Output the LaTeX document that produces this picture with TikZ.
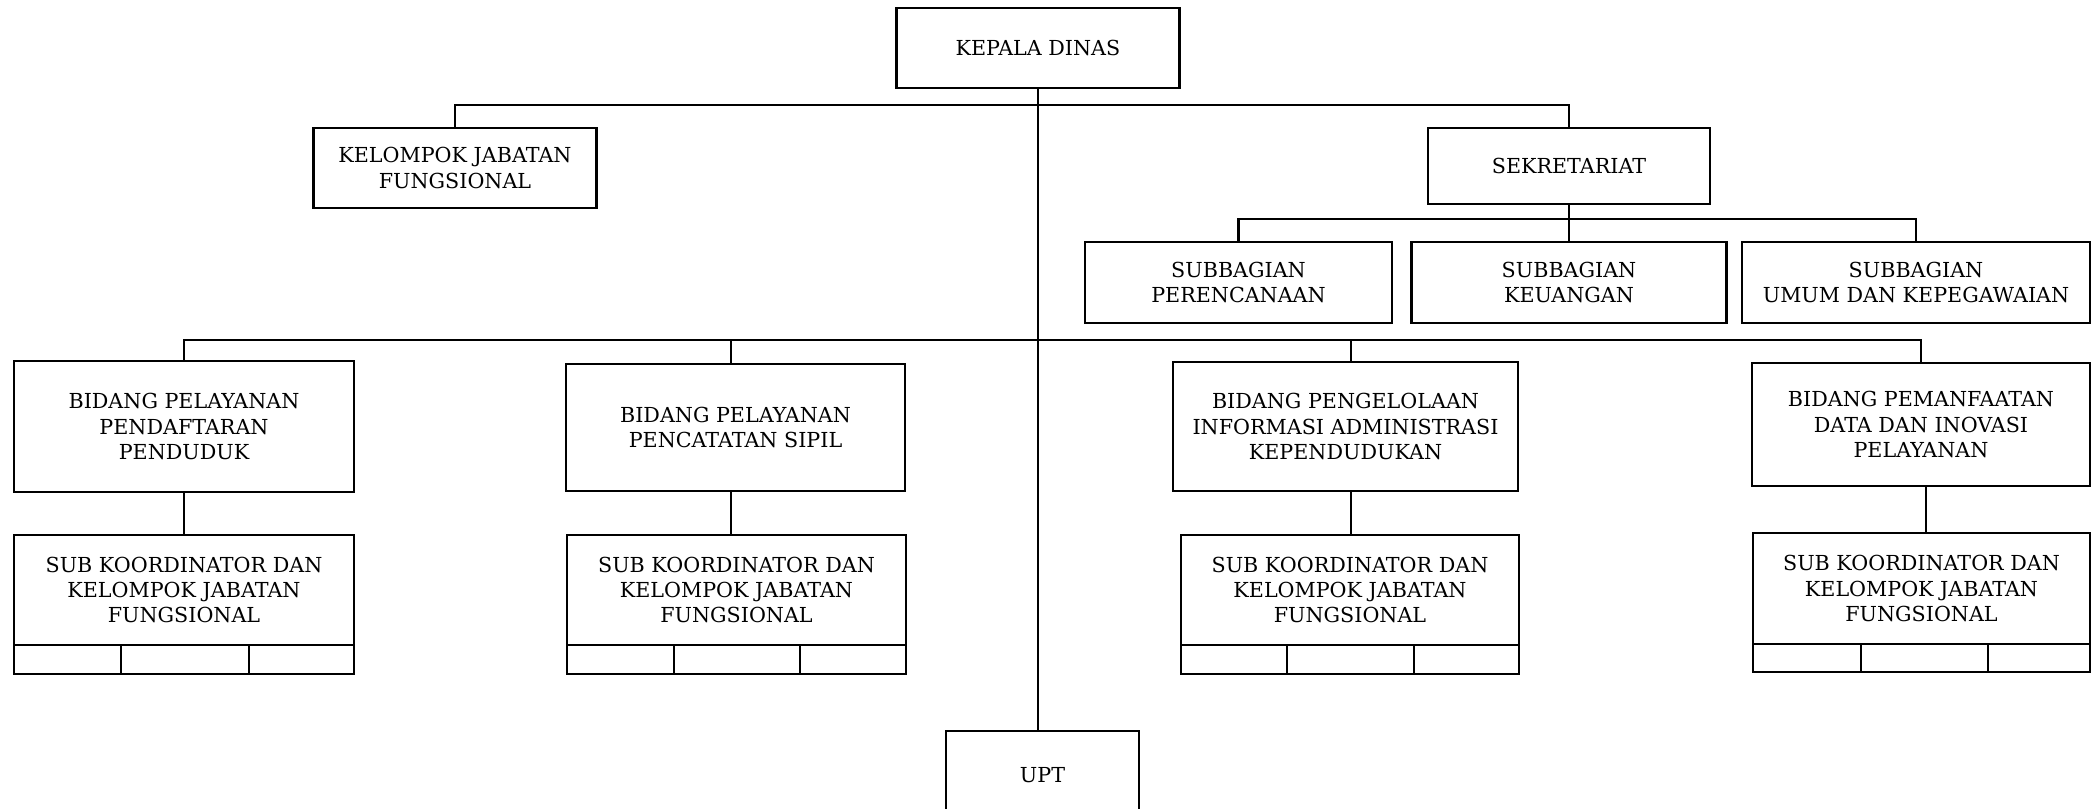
\documentclass[tikz,border=0pt]{standalone}
\usepackage{fontspec}
\setmainfont{DejaVu Serif}
\begin{document}
\begin{tikzpicture}[x=0.75pt,y=0.75pt,yscale=-1,xscale=1,
	box/.style={draw, line width=2pt, align=center, inner sep=0pt, font=\fontsize{15.5}{19}\selectfont},
	cell/.style={draw, line width=2pt, inner sep=0pt, outer sep=0pt, anchor=north west, minimum height=21.75pt},
	conn/.style={line width=2pt}]
	\useasboundingbox (0,0) rectangle (2092,809);
	\clip (0,0) rectangle (2092,809);
	
	%Shape: Rectangle [kepala dinas]
	\node[box, minimum width=212.25pt, minimum height=60pt] (kepala) at (1038,48) {KEPALA DINAS};
	%Shape: Rectangle [kelompok jabatan fungsional]
	\node[box, minimum width=212.25pt, minimum height=60pt] (kjf) at (455,168) {KELOMPOK JABATAN\\FUNGSIONAL};
	%Shape: Rectangle [sekretariat]
	\node[box, minimum width=211.5pt, minimum height=57pt] (sek) at (1569,166) {SEKRETARIAT};
	
	%Shape: Rectangle [subbagian]
	\node[box, minimum width=230.25pt, minimum height=60.75pt] (subA) at (1238.5,282.5) {SUBBAGIAN\\PERENCANAAN};
	\node[box, minimum width=236.25pt, minimum height=60.75pt] (subB) at (1569,282.5) {SUBBAGIAN\\KEUANGAN};
	\node[box, minimum width=261pt, minimum height=60.75pt] (subC) at (1916,282.5) {SUBBAGIAN\\UMUM DAN KEPEGAWAIAN};
	
	%Shape: Rectangle [bidang]
	\node[box, minimum width=255pt, minimum height=98.25pt] (bidA) at (184,426.5) {BIDANG PELAYANAN\\PENDAFTARAN\\PENDUDUK};
	\node[box, minimum width=254.25pt, minimum height=95.25pt] (bidB) at (735.5,427.5) {BIDANG PELAYANAN\\PENCATATAN SIPIL};
	\node[box, minimum width=258.75pt, minimum height=96.75pt] (bidC) at (1345.5,426.5) {BIDANG PENGELOLAAN\\INFORMASI ADMINISTRASI\\KEPENDUDUKAN};
	\node[box, minimum width=253.5pt, minimum height=92.25pt] (bidD) at (1921,424.5) {BIDANG PEMANFAATAN\\DATA DAN INOVASI\\PELAYANAN};
	
	%Shape: Rectangle [sub koordinator]
	\node[box, minimum width=255pt, minimum height=82.5pt] (skA) at (184,590) {SUB KOORDINATOR DAN\\KELOMPOK JABATAN\\FUNGSIONAL};
	\node[box, minimum width=254.25pt, minimum height=82.5pt] (skB) at (736.5,590) {SUB KOORDINATOR DAN\\KELOMPOK JABATAN\\FUNGSIONAL};
	\node[box, minimum width=253.5pt, minimum height=82.5pt] (skC) at (1350,590) {SUB KOORDINATOR DAN\\KELOMPOK JABATAN\\FUNGSIONAL};
	\node[box, minimum width=252.75pt, minimum height=83.25pt] (skD) at (1921.5,588.5) {SUB KOORDINATOR DAN\\KELOMPOK JABATAN\\FUNGSIONAL};
	
	%Shape: Rectangle [empty cells]
	\node[cell, minimum width=80.25pt] (skA1) at (14,645) {};
	\node[cell, minimum width=96pt] (skA2) at (121,645) {};
	\node[cell, minimum width=78.75pt] (skA3) at (249,645) {};
	\node[cell, minimum width=80.25pt] (skB1) at (567,645) {};
	\node[cell, minimum width=94.5pt] (skB2) at (674,645) {};
	\node[cell, minimum width=79.5pt] (skB3) at (800,645) {};
	\node[cell, minimum width=79.5pt] (skC1) at (1181,645) {};
	\node[cell, minimum width=95.25pt] (skC2) at (1287,645) {};
	\node[cell, minimum width=78.75pt] (skC3) at (1414,645) {};
	\node[cell, minimum width=81pt, minimum height=21pt] (skD1) at (1753,644) {};
	\node[cell, minimum width=95.25pt, minimum height=21pt] (skD2) at (1861,644) {};
	\node[cell, minimum width=76.5pt, minimum height=21pt] (skD3) at (1988,644) {};
	
	%Shape: Rectangle [upt]
	\node[box, minimum width=144.75pt, minimum height=66pt] (upt) at (1042.5,775) {UPT};
	
	%Straight Lines [bus]
	\coordinate (busTop) at (1038,105);
	\coordinate (busSek) at (1569,219);
	\coordinate (busBid) at (1038,340);
	\coordinate (dropB) at (731,340);
	\coordinate (dropC) at (1351,340);
	\coordinate (dropD) at (1926,340);
	
	\draw[conn] (kepala.south) -- (kepala.south |- upt.north);
	\draw[conn] (kjf.north) |- (busTop) -| (sek.north);
	\draw[conn] (sek.south) -- (subB.north);
	\draw[conn] (subA.north) |- (busSek) -| (subC.north);
	\draw[conn] (bidA.north) |- (busBid) -| (bidD.north);
	\draw[conn] (dropB) -- (dropB |- bidB.north);
	\draw[conn] (dropC) -- (dropC |- bidC.north);
	
	%Straight Lines [bidang to sub koordinator]
	\draw[conn] (bidA.south) -- (bidA.south |- skA.north);
	\draw[conn] (dropB |- bidB.south) -- (dropB |- skB.north);
	\draw[conn] (dropC |- bidC.south) -- (dropC |- skC.north);
	\draw[conn] (dropD |- bidD.south) -- (dropD |- skD.north);
	
\end{tikzpicture}
\end{document}
